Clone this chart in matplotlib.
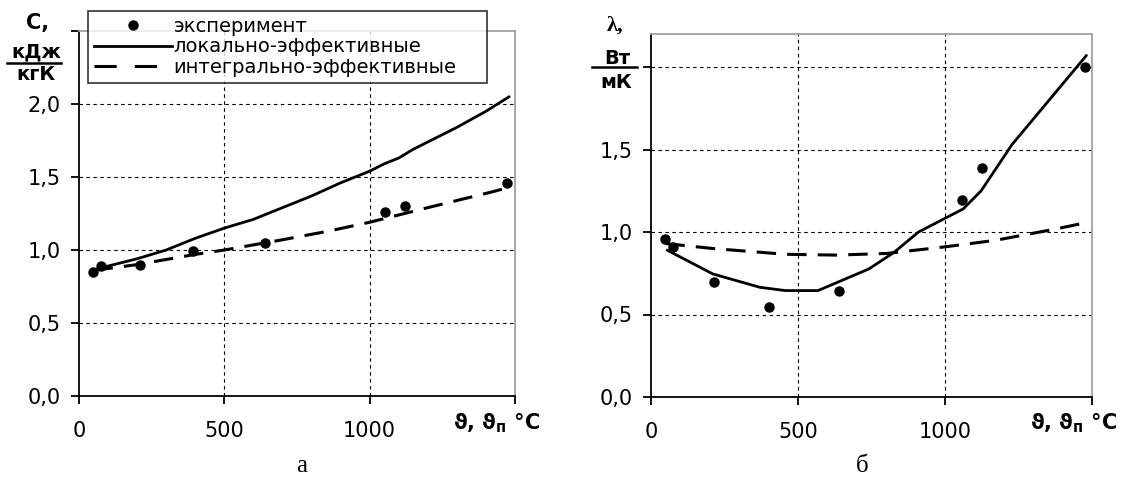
import matplotlib

matplotlib.use("Agg")
import matplotlib.pyplot as plt
from matplotlib.lines import Line2D

W, H = 1129, 482

# ---- data ----
# panel a: heat capacity c, kJ/(kg K)
c_exp_t = [49, 74, 209, 393, 639, 1054, 1122, 1474]
c_exp = [0.85, 0.89, 0.90, 0.99, 1.05, 1.26, 1.30, 1.46]
c_loc_t = [50, 100, 200, 300, 400, 500, 600, 700, 800, 900, 1000, 1050, 1100, 1150, 1200, 1300, 1400, 1480]
c_loc = [0.86, 0.89, 0.94, 1.00, 1.08, 1.15, 1.21, 1.29, 1.37, 1.46, 1.54, 1.59, 1.63, 1.69, 1.74, 1.84, 1.95, 2.05]
c_int_t = [50, 200, 400, 500, 700, 860, 1000, 1200, 1425, 1480]
c_int = [0.86, 0.90, 0.97, 1.00, 1.07, 1.13, 1.19, 1.29, 1.40, 1.43]

# panel b: thermal conductivity lambda, W/(m K)
l_exp_t = [49, 74, 214, 401, 638, 1058, 1127, 1475]
l_exp = [0.955, 0.91, 0.70, 0.545, 0.645, 1.195, 1.385, 2.00]
l_loc_t = [55, 210, 370, 457, 568, 741, 827, 910, 1062, 1123, 1228, 1481]
l_loc = [0.89, 0.746, 0.665, 0.645, 0.645, 0.776, 0.877, 1.00, 1.14, 1.25, 1.53, 2.07]
l_int_t = [49, 210, 457, 630, 802, 1000, 1173, 1370, 1481]
l_int = [0.93, 0.90, 0.865, 0.86, 0.87, 0.91, 0.95, 1.016, 1.057]

x_ticks = [0, 500, 1000, 1500]
x_labels = ["0", "500", "1000", ""]
legend_labels = ["эксперимент", "локально-эффективные", "интегрально-эффективные"]

SANS = ["DejaVu Sans"]
SERIF = ["Liberation Serif", "DejaVu Serif"]
plt.rcParams["font.family"] = SANS
plt.rcParams["lines.scale_dashes"] = False

DASH = (0, (14, 8))
GRID = dict(color="black", lw=0.8, ls=(0, (2.5, 2.5)))


def fx(x):
    return x / W


def fy(y):
    return 1 - y / H


def setup(ax, ymax, yticks, ylabels):
    ax.set_xlim(0, 1500)
    ax.set_ylim(0, ymax)
    ax.set_xticks(x_ticks, x_labels)
    ax.set_yticks(yticks, ylabels)
    for v in [500, 1000]:
        ax.axvline(v, zorder=0, **GRID)
    for v in [0.5, 1.0, 1.5, 2.0]:
        ax.axhline(v, zorder=0, **GRID)
    for s in ["left", "bottom"]:
        ax.spines[s].set_color("black")
        ax.spines[s].set_linewidth(1.3)
    for s in ["top", "right"]:
        ax.spines[s].set_color("#a0a0a0")
        ax.spines[s].set_linewidth(1.3)
    ax.tick_params(axis="both", direction="out", length=6, width=1.3, labelsize=15)
    ax.tick_params(axis="x", pad=12)
    ax.tick_params(axis="y", pad=7)


def draw(ax, et, ev, lt, lv, it, iv):
    ax.plot(lt, lv, color="black", lw=2.0, solid_capstyle="round", zorder=3)
    ax.plot(it, iv, color="black", lw=2.2, ls=DASH, zorder=3)
    ax.plot(et, ev, "o", color="black", ms=6.5, zorder=4)


fig = plt.figure(figsize=(W / 100, H / 100), dpi=100)

ax1 = fig.add_axes([fx(79), fy(396), fx(515 - 79), (396 - 31) / H])
setup(ax1, 2.5, [0, 0.5, 1.0, 1.5, 2.0, 2.5], ["0,0", "0,5", "1,0", "1,5", "2,0", ""])
draw(ax1, c_exp_t, c_exp, c_loc_t, c_loc, c_int_t, c_int)

ax2 = fig.add_axes([fx(651), fy(397), fx(1092 - 651), (397 - 34) / H])
setup(ax2, 2.2, [0, 0.5, 1.0, 1.5, 2.0], ["0,0", "0,5", "1,0", "1,5", ""])
draw(ax2, l_exp_t, l_exp, l_loc_t, l_loc, l_int_t, l_int)

# x axis caption at the 1500 position
for xr in [497, 1074]:
    fig.text(fx(xr), fy(423), r"ϑ, ϑ$_\mathregular{п}$ °С", ha="center", va="center",
             fontsize=15, fontweight="bold")

# y units as a fraction
fig.text(fx(38), fy(23), "С,", ha="center", va="center", fontsize=15, fontweight="bold")
fig.text(fx(36), fy(52), "кДж", ha="center", va="center", fontsize=14, fontweight="bold")
fig.add_artist(Line2D([fx(7), fx(61)], [fy(63), fy(63)], color="black", lw=1.8))
fig.text(fx(36), fy(75), "кгК", ha="center", va="center", fontsize=14, fontweight="bold")

fig.text(fx(615), fy(26), "λ,", ha="center", va="center", fontsize=16, family=SERIF, fontweight="bold")
fig.text(fx(617), fy(58), "Вт", ha="center", va="center", fontsize=14, fontweight="bold")
fig.add_artist(Line2D([fx(592), fx(637)], [fy(67), fy(67)], color="black", lw=1.8))
fig.text(fx(616), fy(82), "мК", ha="center", va="center", fontsize=14, fontweight="bold")

# panel captions
fig.text(fx(302), fy(466), "а", ha="center", va="center", fontsize=18, family=SERIF)
fig.text(fx(862), fy(466), "б", ha="center", va="center", fontsize=18, family=SERIF)

handles = [
    Line2D([], [], ls="none", marker="o", color="black", ms=6.5),
    Line2D([], [], color="black", lw=2.0),
    Line2D([], [], color="black", lw=2.2, ls=(0, (16, 13))),
]
leg = fig.legend(handles, legend_labels, loc="upper left",
                 bbox_to_anchor=(fx(88), fy(86), fx(487 - 88), (86 - 11) / H),
                 mode="expand", fontsize=14, frameon=True,
                 fancybox=False, edgecolor="black", handlelength=4.0,
                 handletextpad=0.1, labelspacing=0.08, borderpad=0.3,
                 borderaxespad=0)
leg.get_frame().set_linewidth(1.2)
leg.set_zorder(10)

fig.savefig("out.png", dpi=100)
